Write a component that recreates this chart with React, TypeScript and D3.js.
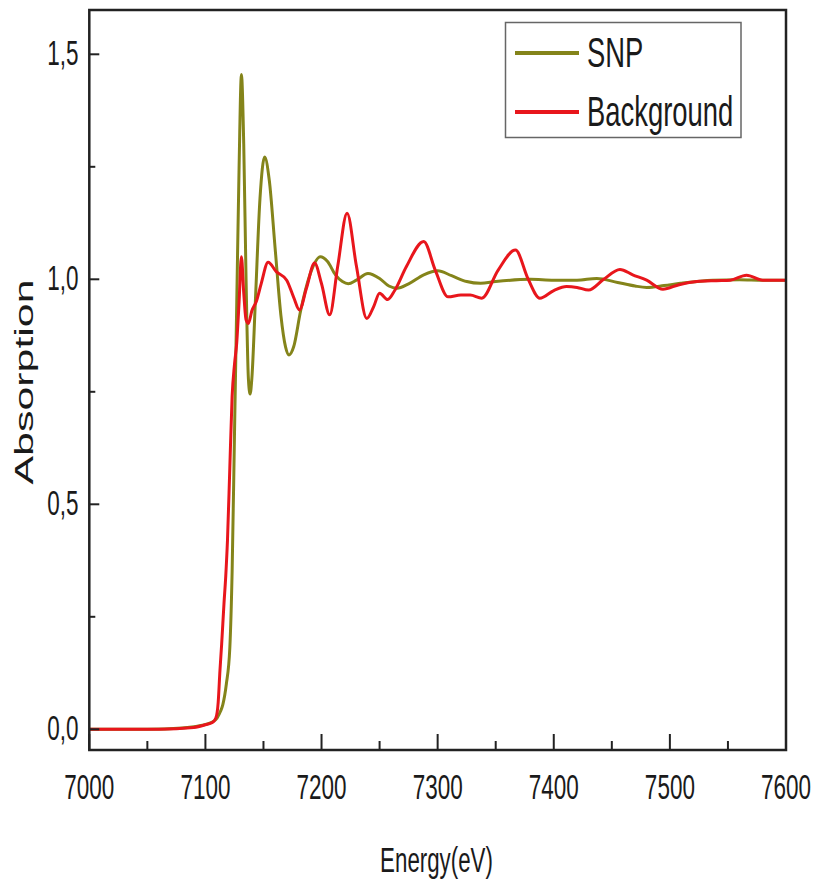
import React from "react";
import * as d3 from "d3";

// ---- Data ----
const snpEnergy = [7000, 7050, 7080, 7095, 7105, 7110, 7113, 7115, 7118, 7121, 7123, 7125, 7127, 7129, 7131, 7133, 7135, 7137, 7138.5, 7140, 7143, 7147, 7151, 7155, 7160, 7165, 7169, 7172, 7176, 7182, 7190, 7199, 7205, 7212, 7218, 7223, 7230, 7240, 7250, 7258, 7265, 7275, 7288, 7300, 7312, 7325, 7337, 7350, 7380, 7400, 7420, 7437, 7455, 7470, 7480, 7495, 7509, 7537, 7560, 7580, 7600];
const snpValues = [0.0, 0.0, 0.003, 0.008, 0.015, 0.025, 0.04, 0.055, 0.10, 0.18, 0.35, 0.65, 0.95, 1.25, 1.455, 1.30, 1.00, 0.78, 0.745, 0.78, 0.95, 1.18, 1.272, 1.22, 1.07, 0.92, 0.85, 0.832, 0.85, 0.93, 1.01, 1.05, 1.04, 1.01, 0.995, 0.99, 0.998, 1.013, 1.002, 0.985, 0.98, 0.99, 1.01, 1.019, 1.008, 0.995, 0.991, 0.995, 1.0, 0.998, 0.998, 1.002, 0.993, 0.985, 0.982, 0.986, 0.991, 0.998, 0.999, 0.998, 0.998];

const bgEnergy = [7000, 7060, 7090, 7100, 7106, 7109, 7111, 7112.5, 7114, 7116, 7117.5, 7119, 7121, 7123, 7125, 7127, 7129, 7131, 7133, 7135, 7137, 7140, 7144, 7148, 7154, 7161, 7170, 7176, 7181, 7187, 7194, 7200, 7207, 7214, 7222, 7230, 7239, 7245, 7250, 7257, 7263, 7273, 7288, 7298, 7309, 7320, 7328, 7338, 7352, 7367, 7378, 7388, 7400, 7411, 7420, 7430, 7443, 7457, 7468, 7480, 7494, 7508, 7523, 7540, 7552, 7566, 7580, 7600];
const bgValues = [0.0, 0.0, 0.004, 0.01, 0.015, 0.025, 0.06, 0.13, 0.19, 0.28, 0.34, 0.42, 0.58, 0.74, 0.81, 0.86, 0.95, 1.05, 0.97, 0.91, 0.902, 0.93, 0.952, 0.99, 1.038, 1.017, 0.998, 0.96, 0.932, 0.98, 1.036, 0.99, 0.921, 1.03, 1.147, 1.03, 0.913, 0.94, 0.969, 0.955, 0.975, 1.028, 1.084, 1.02, 0.961, 0.965, 0.965, 0.958, 1.02, 1.065, 1.0, 0.958, 0.975, 0.984, 0.982, 0.976, 1.0, 1.022, 1.01, 0.998, 0.978, 0.988, 0.995, 0.997, 0.998, 1.009, 0.998, 0.998];

const xMajorTicks = [7000, 7100, 7200, 7300, 7400, 7500, 7600];
const xMinorTicks = [7050, 7150, 7250, 7350, 7450, 7550];
const yMajorTicks = [0, 0.5, 1.0, 1.5];
const yMinorTicks = [0.25, 0.75, 1.25];
const yTickLabels = ["0,0", "0,5", "1,0", "1,5"];

const seriesNames = ["SNP", "Background"];
const seriesColors = ["#84841a", "#e8161c"];

const FONT = "'Liberation Sans', Arial, Helvetica, sans-serif";

function SText({ x, y, sy, size, anchor, children, fill = "#1a1a1a" }: any) {
  return (
    <text
      transform={`translate(${x},${y}) scale(1,${sy})`}
      fontSize={size}
      fontFamily={FONT}
      textAnchor={anchor}
      fill={fill}
    >
      {children}
    </text>
  );
}

export default function App() {
  const left = 89.3, right = 786, top = 10, bottom = 750;
  const x = d3.scaleLinear().domain([7000, 7600]).range([left, right]);
  const y = d3.scaleLinear().domain([0, 1.5]).range([729.3, 54.3]);

  const line = d3
    .line<[number, number]>()
    .x((d) => x(d[0]))
    .y((d) => y(d[1]))
    .curve(d3.curveMonotoneX);

  const snp = snpEnergy.map((e, i) => [e, snpValues[i]] as [number, number]);
  const bg = bgEnergy.map((e, i) => [e, bgValues[i]] as [number, number]);

  const tickSy = 1.55;
  const tickSize = 22.5;

  return (
    <svg
      width={814}
      height={884}
      style={{ position: "absolute", left: 0, top: 0, background: "#fff" }}
    >
      <defs>
        <clipPath id="plotClip">
          <rect x={left} y={top} width={right - left} height={bottom - top} />
        </clipPath>
      </defs>

      <g clipPath="url(#plotClip)">
        <path d={line(snp) || ""} fill="none" stroke={seriesColors[0]} strokeWidth={3} strokeLinejoin="round" />
        <path d={line(bg) || ""} fill="none" stroke={seriesColors[1]} strokeWidth={3} strokeLinejoin="round" />
      </g>

      {/* x ticks (inward) */}
      {xMajorTicks.map((t) => (
        <line key={"xM" + t} x1={x(t)} x2={x(t)} y1={bottom} y2={bottom - 16} stroke="#222" strokeWidth={2} />
      ))}
      {xMinorTicks.map((t) => (
        <line key={"xm" + t} x1={x(t)} x2={x(t)} y1={bottom} y2={bottom - 9} stroke="#222" strokeWidth={2} />
      ))}
      {/* y ticks (inward) */}
      {yMajorTicks.map((t) => (
        <line key={"yM" + t} x1={left} x2={left + 10} y1={y(t)} y2={y(t)} stroke="#222" strokeWidth={2} />
      ))}
      {yMinorTicks.map((t) => (
        <line key={"ym" + t} x1={left} x2={left + 6} y1={y(t)} y2={y(t)} stroke="#222" strokeWidth={2} />
      ))}

      {/* frame */}
      <rect x={left} y={top} width={right - left} height={bottom - top} fill="none" stroke="#222" strokeWidth={2.5} />

      {/* x tick labels */}
      {xMajorTicks.map((t) => (
        <SText key={"xl" + t} x={x(t)} y={799} sy={tickSy} size={tickSize} anchor="middle">
          {String(t)}
        </SText>
      ))}
      {/* y tick labels */}
      {yMajorTicks.map((t, i) => (
        <SText key={"yl" + t} x={78.5} y={y(t) + 11} sy={tickSy} size={tickSize} anchor="end">
          {yTickLabels[i]}
        </SText>
      ))}

      {/* axis titles */}
      <SText x={436.5} y={872} sy={1.57} size={22.3} anchor="middle">
        Energy(eV)
      </SText>
      <text
        transform={`translate(33.3,382) rotate(-90) scale(1.65,1)`}
        fontSize={26}
        fontFamily={FONT}
        textAnchor="middle"
        fill="#1a1a1a"
      >
        Absorption
      </text>

      {/* legend */}
      <rect x={505.5} y={22.5} width={235.5} height={115} fill="#fff" stroke="#666" strokeWidth={1.5} />
      {seriesNames.map((name, i) => {
        const ly = i === 0 ? 53 : 112;
        return (
          <g key={name}>
            <line x1={515} x2={579} y1={ly} y2={ly} stroke={seriesColors[i]} strokeWidth={4} />
            <SText x={587} y={ly + (i === 0 ? 13.7 : 14)} sy={1.53} size={27.4} anchor="start">
              {name}
            </SText>
          </g>
        );
      })}
    </svg>
  );
}
